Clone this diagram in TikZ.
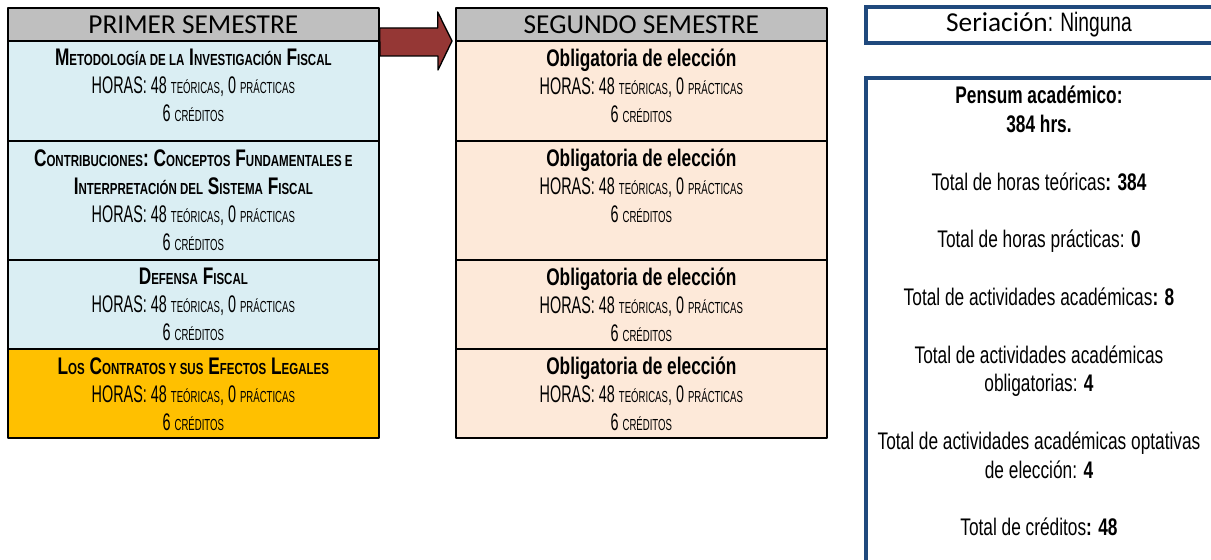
\documentclass[tikz,border=0pt]{standalone}
\usepackage{fontspec}
\setmainfont{Carlito}
\newfontfamily\agency[FakeStretch=0.72]{Liberation Sans}
\newfontfamily\agencyc[FakeStretch=0.6]{Liberation Sans}
\usetikzlibrary{positioning}
\definecolor{grisHdr}{HTML}{BFBFBF}
\definecolor{azulRow}{HTML}{DAEEF3}
\definecolor{naranjaRow}{HTML}{FFC000}
\definecolor{durazno}{HTML}{FDE9D9}
\definecolor{vino}{HTML}{953735}
\definecolor{azulMarco}{HTML}{1F497D}
\newcommand\smc[1]{{\fontsize{12pt}{21pt}\selectfont\MakeUppercase{#1}}}
\newcommand\horas{{\agencyc HORAS: 48 \smc{teóricas}, 0 \smc{prácticas}}\\{\agencyc 6 \smc{créditos}}}
\begin{document}
\begin{tikzpicture}[x=0.75pt, y=-0.75pt, line join=round,
    font=\agency\fontsize{18pt}{21pt}\selectfont,
    hdr/.style={draw, line width=1.5pt, fill=grisHdr, minimum width=278pt,
        minimum height=24.75pt, inner sep=0pt, outer sep=0pt,
        font=\normalfont\fontsize{20.5pt}{24pt}\selectfont},
    row/.style={draw, line width=1.5pt, minimum width=278pt, inner sep=0pt, outer sep=0pt},
    txt/.style={anchor=north, align=center, inner sep=0pt, yshift=-6pt},
    marco/.style={minimum width=285pt, inner sep=0pt, outer sep=0pt},
    borde/.style={draw=azulMarco, line width=3pt, line join=miter},
    flecha/.style={draw=black, line width=1pt, fill=vino}]
    \useasboundingbox (0,0) rectangle (1211,560);
    \clip (0,0) rectangle (1211,560);
    % primer semestre
    \node[hdr, anchor=north west] (h1) at (8,8) {PRIMER SEMESTRE};
    \node[row, fill=azulRow, minimum height=75pt, below=0pt of h1] (m1) {};
    \node[row, fill=azulRow, minimum height=89.25pt, below=0pt of m1] (m2) {};
    \node[row, fill=azulRow, minimum height=66.75pt, below=0pt of m2] (m3) {};
    \node[row, fill=naranjaRow, minimum height=66.75pt, below=0pt of m3] (m4) {};
    \node[txt] (tm1) at (m1.north) {\textbf{M\smc{etodología de la} I\smc{nvestigación} F\smc{iscal}}\\\horas};
    \node[txt] (tm2) at (m2.north) {\textbf{C\smc{ontribuciones}: C\smc{onceptos} F\smc{undamentales e}}\\
        \textbf{I\smc{nterpretación del} S\smc{istema} F\smc{iscal}}\\\horas};
    \node[txt] (tm3) at (m3.north) {\textbf{D\smc{efensa} F\smc{iscal}}\\\horas};
    \node[txt] (tm4) at (m4.north) {\textbf{L\smc{os} C\smc{ontratos y sus} E\smc{fectos} L\smc{egales}}\\\horas};
    % segundo semestre
    \node[hdr, anchor=north west] (h2) at (456,8) {SEGUNDO SEMESTRE};
    \node[row, fill=durazno, minimum height=75pt, below=0pt of h2] (e1) {};
    \node[row, fill=durazno, minimum height=89.25pt, below=0pt of e1] (e2) {};
    \node[row, fill=durazno, minimum height=66.75pt, below=0pt of e2] (e3) {};
    \node[row, fill=durazno, minimum height=66.75pt, below=0pt of e3] (e4) {};
    \foreach \e in {e1,e2,e3,e4}
        \node[txt] (t\e) at (\e.north) {\textbf{Obligatoria de elección}\\\horas};
    % flecha
    \coordinate (ai) at (h1.south east);
    \coordinate (af) at (h2.south west);
    \draw[flecha] ([xshift=0.75pt]ai) ++(0,-13) -- ++(58,0) -- ++(0,-16)
        -- ([xshift=-3pt]af) -- ++(-14,29) -- ++(0,-14) -- ++(-58,0) -- cycle;
    % resumen
    \coordinate (cx) at (1039,0);
    \node[marco, minimum height=27pt, anchor=north west] (seri) at (866,7) {};
    \draw[borde] (seri.north east) -- (seri.north west) -- (seri.south west) -- (seri.south east);
    \node[font=\normalfont\fontsize{20.5pt}{24pt}\selectfont, inner sep=0pt] (tseri) at (cx |- seri)
        {Seriación{\agency\fontsize{20pt}{21pt}\selectfont: Ninguna}};
    \node[marco, minimum height=400pt, anchor=north west] (pensum) at (866,78) {};
    \draw[borde] (pensum.north east) -- (pensum.north west) -- (pensum.south west);
    \node[txt, font=\agency\fontsize{18pt}{21.6pt}\selectfont] (tpen) at (cx |- pensum.north)
        {\textbf{Pensum académico:}\\\textbf{384 hrs.}\\[21.6pt]
        Total de horas teóricas\textbf{: 384}\\[21.6pt]
        Total de horas prácticas: \textbf{0}\\[21.6pt]
        Total de actividades académicas\textbf{: 8}\\[21.6pt]
        Total de actividades académicas\\obligatorias: \textbf{4}\\[21.6pt]
        Total de actividades académicas optativas\\de elección: \textbf{4}\\[21.6pt]
        Total de créditos\textbf{: 48}};
\end{tikzpicture}
\end{document}
